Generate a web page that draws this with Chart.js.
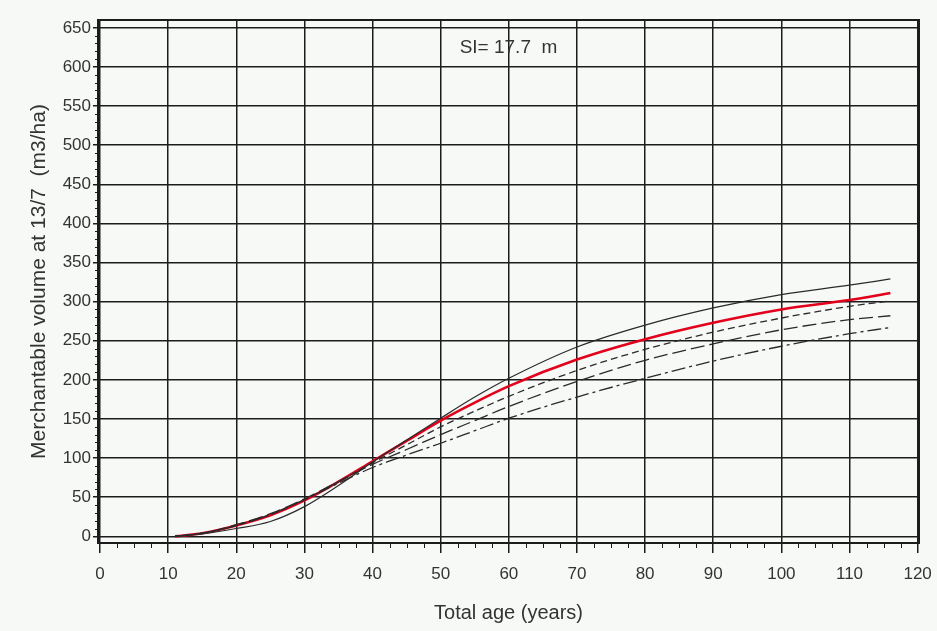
<!DOCTYPE html>
<html>
<head>
<meta charset="utf-8">
<script src="https://cdn.jsdelivr.net/npm/chart.js@4"></script>
<style>
  html, body { margin: 0; padding: 0; background: #f7f9f7; }
  #wrap { width: 937px; height: 631px; }
</style>
</head>
<body>
<div id="wrap"><canvas id="volChart" width="937" height="631"></canvas></div>
<script>
// Stand age (years) where the curves are sampled
let ages = [11, 15, 20, 25, 30, 35, 40, 45, 50, 55, 60, 70, 80, 90, 100, 110, 116];

// Merchantable volume (m3/ha) for each curve
let volUpper    = [0, 3, 10, 19, 38, 65, 95, 123, 151, 178, 202, 242, 270, 292, 309, 321, 329];
let volMain     = [0, 4, 14, 27, 46, 70, 96, 122, 148, 171, 192, 226, 252, 273, 290, 302, 311];
let volDashed   = [0, 4, 14, 28, 47, 70, 94, 117, 140, 160, 179, 212, 239, 261, 279, 294, 301];
let volLongDash = [0, 4, 15, 29, 48, 70, 92, 111, 130, 148, 166, 198, 225, 246, 264, 277, 282];
let volDashDot  = [0, 4, 14, 28, 47, 68, 88, 104, 119, 135, 151, 178, 202, 224, 243, 259, 267];

// Axis ticks
let xTicks = [0, 10, 20, 30, 40, 50, 60, 70, 80, 90, 100, 110, 120];
let yTicks = [0, 50, 100, 150, 200, 250, 300, 350, 400, 450, 500, 550, 600, 650];

let siLabel = 'SI= 17.7  m';

const ink = '#1c1c1c';
const textCol = '#333';
const font = "'Liberation Sans', Arial, sans-serif";

function pts(vals) {
  return vals.map((v, i) => ({ x: ages[i], y: v }));
}

function curve(vals, color, width, dash) {
  return {
    data: pts(vals),
    borderColor: color,
    borderWidth: width,
    borderDash: dash,
    pointRadius: 0,
    fill: false,
    cubicInterpolationMode: 'monotone'
  };
}

// frame, minor ticks and the SI note
const extras = {
  id: 'extras',
  afterDraw(chart) {
    const c = chart.ctx, a = chart.chartArea;
    const xs = chart.scales.x, ys = chart.scales.y;
    c.save();
    c.strokeStyle = ink;
    c.lineWidth = 2;
    c.strokeRect(a.left, a.top, a.right - a.left, a.bottom - a.top);

    c.lineWidth = 1;
    c.beginPath();
    for (let v = 2.5; v < 120; v += 2.5) {
      if (v % 10 === 0) continue;
      const px = Math.round(xs.getPixelForValue(v)) + 0.5;
      c.moveTo(px, a.bottom);
      c.lineTo(px, a.bottom + 5);
    }
    for (let v = 10; v < 660; v += 10) {
      if (v % 50 === 0) continue;
      const py = Math.round(ys.getPixelForValue(v)) + 0.5;
      c.moveTo(a.left, py);
      c.lineTo(a.left - 3, py);
    }
    c.stroke();

    c.fillStyle = textCol;
    c.font = '19px ' + font;
    c.textAlign = 'center';
    c.textBaseline = 'middle';
    c.fillText(siLabel, (a.left + a.right) / 2, ys.getPixelForValue(625));
    c.restore();
  }
};

let ctx = document.getElementById('volChart').getContext('2d');
let volChart = new Chart(ctx, {
  type: 'line',
  data: {
    datasets: [
      curve(volUpper, '#2a2a2a', 1.2, []),
      curve(volDashed, '#2a2a2a', 1.3, [7, 4]),
      curve(volLongDash, '#2a2a2a', 1.3, [14, 5]),
      curve(volDashDot, '#2a2a2a', 1.3, [14, 4, 3, 4]),
      curve(volMain, '#e3001b', 2.6, [])
    ]
  },
  options: {
    responsive: false,
    animation: false,
    layout: { padding: { top: 20, right: 18, left: 0, bottom: 0 } },
    plugins: { legend: { display: false }, tooltip: { enabled: false } },
    scales: {
      x: {
        type: 'linear',
        min: -0.3,
        max: 120.2,
        afterBuildTicks: s => { s.ticks = xTicks.map(v => ({ value: v })); },
        afterFit: s => { s.height = 88; s.paddingLeft = 0; s.paddingRight = 0; },
        grid: { color: ink, lineWidth: 1.5, tickLength: 10, tickColor: ink },
        border: { display: true, color: ink, width: 2 },
        ticks: { color: textCol, font: { family: font, size: 17 }, padding: 11, maxRotation: 0 },
        title: {
          display: true,
          text: 'Total age (years)',
          color: textCol,
          font: { family: font, size: 20 },
          padding: { top: 0, bottom: 6 }
        }
      },
      y: {
        min: -8.5,
        max: 660,
        afterBuildTicks: s => { s.ticks = yTicks.map(v => ({ value: v })); },
        afterFit: s => { s.width = 98; },
        grid: { color: ink, lineWidth: 1.5, tickLength: 5, tickColor: ink },
        border: { display: true, color: ink, width: 2 },
        ticks: { color: textCol, font: { family: font, size: 17 }, padding: 2 },
        title: {
          display: true,
          text: 'Merchantable volume at 13/7  (m3/ha)',
          color: textCol,
          font: { family: font, size: 21 },
          padding: { top: 27, bottom: 0 }
        }
      }
    }
  },
  plugins: [extras]
});
</script>
</body>
</html>
